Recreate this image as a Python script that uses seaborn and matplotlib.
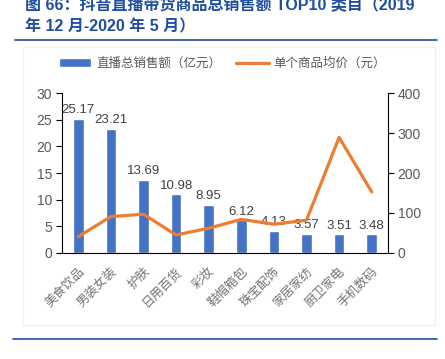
import numpy as np
import pandas as pd
import matplotlib
matplotlib.use("Agg")
import matplotlib.pyplot as plt
import seaborn as sns
from matplotlib.lines import Line2D
from matplotlib.patches import Patch, Rectangle

# 数据
categories = ["美食饮品", "男装女装", "护肤", "日用百货", "彩妆",
              "鞋帽箱包", "珠宝配饰", "家居家纺", "厨卫家电", "手机数码"]
sales = [25.17, 23.21, 13.69, 10.98, 8.95, 6.12, 4.13, 3.57, 3.51, 3.48]
avg_price = [41, 91, 97, 45, 62, 84, 72, 82, 289, 153]
left_ticks = [0, 5, 10, 15, 20, 25, 30]
right_ticks = [0, 100, 200, 300, 400]
title = "图 66：抖音直播带货商品总销售额 TOP10 类目（2019\n年 12 月-2020 年 5 月）"
legend_labels = ["直播总销售额（亿元）", "单个商品均价（元）"]

sns.set_theme(style="white")
plt.rcParams["font.family"] = ["Liberation Sans", "Noto Sans CJK SC"]

bar_color = "#4472C4"
line_color = "#ED7D31"
text_gray = "#595959"
navy = "#1F4E9E"

df = pd.DataFrame({"cat": categories, "sales": sales, "price": avg_price})

fig = plt.figure(figsize=(4.45, 3.59), dpi=100)
ax = fig.add_axes([62 / 445, 1 - 253 / 359, 326 / 445, 160 / 359])

sns.barplot(data=df, x="cat", y="sales", color=bar_color, width=0.33,
            saturation=1, ax=ax)
ax.bar_label(ax.containers[0], labels=[f"{v:.2f}" for v in sales],
             padding=2, fontsize=9.5, color="#404040")

ax2 = ax.twinx()
sns.lineplot(data=df, x="cat", y="price", color=line_color, linewidth=2.3,
             ax=ax2)

ax.set_xlim(-0.5, len(categories) - 0.5)
ax.set_ylim(0, 30)
ax2.set_ylim(0, 400)
ax.set_yticks(left_ticks)
ax2.set_yticks(right_ticks)
ax.set_xlabel("")
ax.set_ylabel("")
ax2.set_ylabel("")

ax.set_xticks(range(len(categories)))
ax.set_xticklabels(categories, rotation=45, ha="right", rotation_mode="anchor",
                   fontsize=9, color="#737373")
ax.set_xticks(np.arange(-0.5, len(categories), 1), minor=True)
ax.tick_params(axis="x", which="major", length=0, pad=9)
ax.tick_params(axis="x", which="minor", length=4, direction="in",
               color="black", width=0.8)
ax.tick_params(axis="y", length=4, direction="out", left=True, color="black",
               width=0.8, labelsize=10, labelcolor=text_gray, pad=3)
ax2.tick_params(axis="y", length=4, direction="out", right=True, color="black",
                width=0.8, labelsize=10, labelcolor=text_gray, pad=3)

for a in (ax, ax2):
    a.spines["top"].set_visible(False)
    for s in ("left", "right", "bottom"):
        a.spines[s].set_color("black")
        a.spines[s].set_linewidth(0.8)
ax.spines["right"].set_visible(False)
ax2.spines["left"].set_visible(False)
ax2.spines["bottom"].set_visible(False)
ax.grid(False)
ax2.grid(False)

handles = [Patch(facecolor=bar_color), Line2D([0], [0], color=line_color, lw=2.3)]
fig.legend(handles, legend_labels, loc="center", bbox_to_anchor=(0.5, 1 - 64 / 359),
           ncol=2, frameon=False, fontsize=9, handlelength=2.6, handleheight=0.7,
           columnspacing=1.2, handletextpad=0.4, labelcolor=text_gray)

# 标题与分隔线
fig.text(25 / 445, 1 - 16 / 359, title, fontsize=11.5, fontweight="bold",
         color=navy, ha="left", va="center", linespacing=1.5)
fig.add_artist(Line2D([15 / 445, 437 / 445], [1 - 40 / 359] * 2,
                      color=navy, lw=1.2))
fig.add_artist(Line2D([13 / 445, 437 / 445], [1 - 339 / 359] * 2,
                      color=navy, lw=1.2))
fig.add_artist(Rectangle((23 / 445, 1 - 325 / 359), 412 / 445, 278 / 359,
                         fill=False, edgecolor="#F0F0F0", lw=0.8))

fig.savefig("out.png", dpi=100)
